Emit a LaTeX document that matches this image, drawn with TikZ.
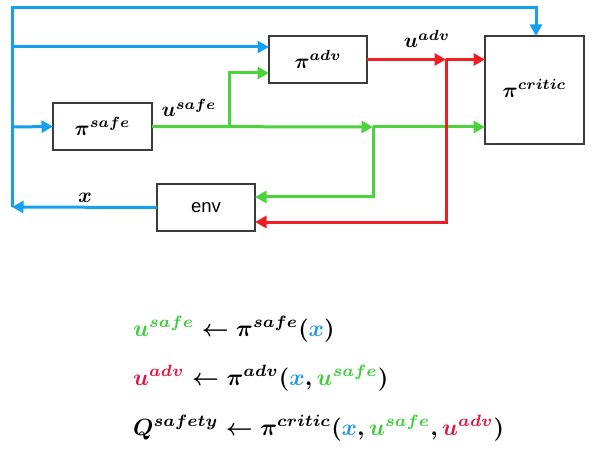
\documentclass[tikz,border=0pt]{standalone}
\usepackage{amsmath}
\usepackage{graphicx}
\usepackage{fontspec}
\newfontfamily\envfont{Liberation Sans}
\usetikzlibrary{arrows.meta,calc}
\definecolor{cblue}{RGB}{20,160,240}
\definecolor{cgreen}{RGB}{75,210,60}
\definecolor{cred}{RGB}{240,30,35}
\definecolor{tgreen}{RGB}{60,205,60}
\definecolor{tred}{RGB}{225,20,60}
\definecolor{tblue}{RGB}{30,150,230}
\definecolor{boxgray}{RGB}{60,60,60}
\newcommand{\mX}{\textcolor{tblue}{x}}
\newcommand{\mUS}{\textcolor{tgreen}{u^{safe}}}
\newcommand{\mUA}{\textcolor{tred}{u^{adv}}}
\newcommand{\lblm}[1]{\scalebox{2.1}{\boldmath$#1$}}
\newcommand{\eqm}[1]{\scalebox{2.34}{\boldmath$#1$}}
\begin{document}
\begin{tikzpicture}[x=1pt,y=-1pt,
  blk/.style={draw=boxgray,line width=1.8pt,inner sep=0pt,outer sep=0pt,anchor=north west,fill=white},
  wire/.style={line width=3pt,line join=miter},
  tip/.style={-{Triangle[length=11.5pt,width=12pt]}},
  bw/.style={wire,cblue},
  gw/.style={wire,cgreen},
  rw/.style={wire,cred},
  lbl/.style={inner sep=0pt},
  eq/.style={inner sep=0pt,anchor=base west}]
\useasboundingbox (0,0) rectangle (596,454);

% boxes
\node[blk,minimum width=99pt,minimum height=47pt] (safe) at (53,103) {\lblm{\pi^{safe}}};
\node[blk,minimum width=98pt,minimum height=47pt] (adv) at (269,36) {\lblm{\pi^{adv}}};
\node[blk,minimum width=99pt,minimum height=108pt] (critic) at (485,36) {\raisebox{3pt}{\lblm{\pi^{critic}}}};
\node[blk,minimum width=98pt,minimum height=47pt,font=\envfont] (env) at (157,184) {\scalebox{1.85}{env}};

% junction coordinates
\coordinate (xl) at (12,207);
\coordinate (tl) at (12,8);
\coordinate (tr) at (536,8);
\coordinate (bA) at (12,47);
\coordinate (bS) at (12,127);
\coordinate (gB) at (229,127);
\coordinate (gBu) at (229,73);
\coordinate (gJ) at (373,127);
\coordinate (gJd) at (373,197);
\coordinate (rJ) at (446,59.5);
\coordinate (rJd) at (446,222);

% blue
\draw[bw,tip] (env.west) -- (xl);
\draw[bw,tip] (xl) -- (tl) -- (tr) -- (tr |- critic.north);
\draw[bw,tip] (bA) -- (bA -| adv.west);
\draw[bw,tip] (bS) -- (safe.west);

% green
\draw[gw,tip] (safe.east) -- (gJ);
\draw[gw,tip] (gB) -- (gBu) -- (gBu -| adv.west);
\draw[gw,tip] (gJ) -- (gJ -| critic.west);
\draw[gw,tip] (gJ) -- (gJd) -- (gJd -| env.east);

% red
\draw[rw,tip] (adv.east) -- (rJ);
\draw[rw,tip] (rJ) -- (rJ -| critic.west);
\draw[rw,tip] (rJ) -- (rJd) -- (rJd -| env.east);

% labels
\node[lbl] (lus) at (189,108) {\lblm{u^{safe}}};
\node[lbl] (lua) at (427,39) {\lblm{u^{adv}}};
\node[lbl] (lx) at (85,198) {\lblm{x}};

% equations
\node[eq] (e1) at (133,336) {\eqm{\mUS \leftarrow \pi^{safe}(\mX)}};
\node[eq] (e2) at (133,385) {\eqm{\mUA \leftarrow \pi^{adv}(\mX, \mUS)}};
\node[eq] (e3) at (133,435) {\eqm{Q^{safety} \leftarrow \pi^{critic}(\mX, \mUS, \mUA)}};
\end{tikzpicture}
\end{document}
